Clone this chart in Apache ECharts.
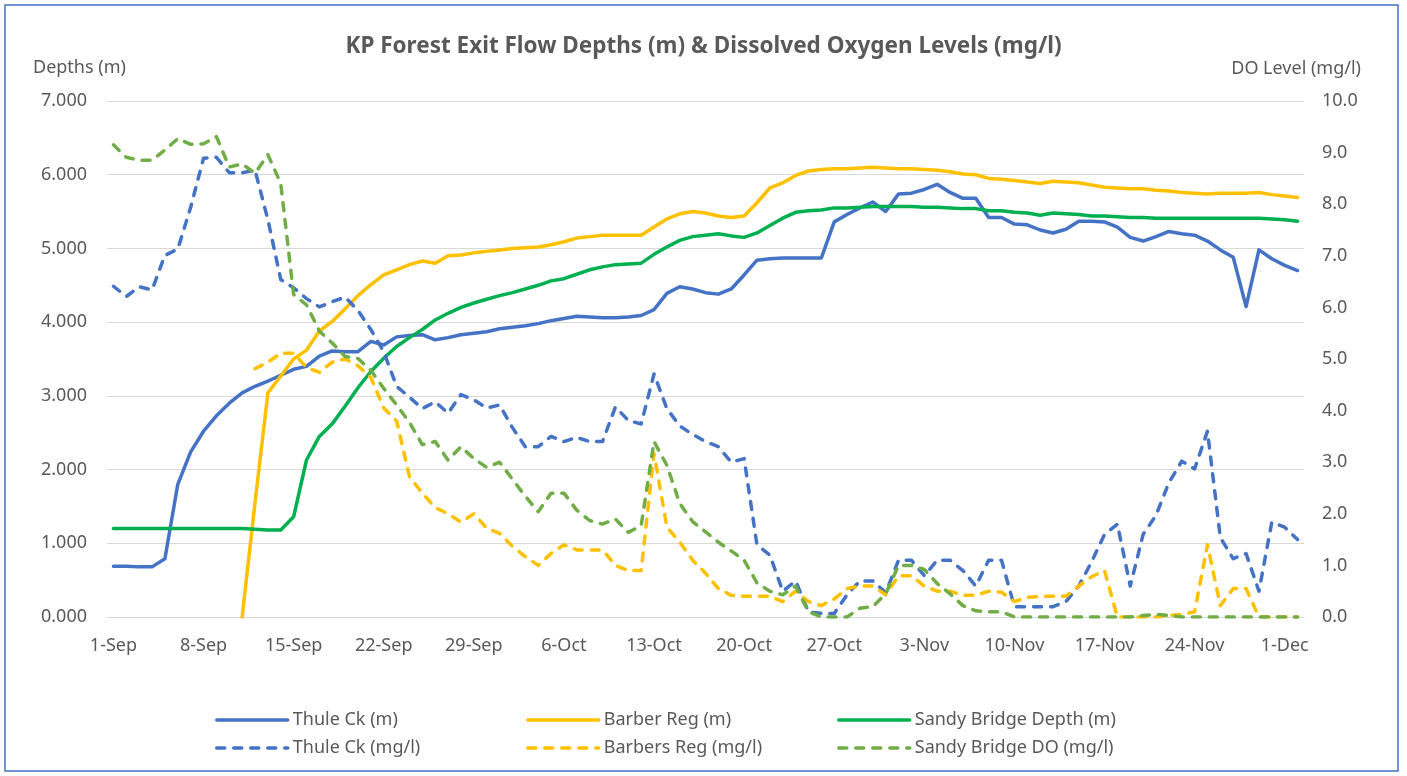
<!DOCTYPE html>
<html>
<head>
<meta charset="utf-8">
<title>KP Forest Exit Flow Depths & Dissolved Oxygen Levels</title>
<script src="https://cdn.jsdelivr.net/npm/echarts@6/dist/echarts.min.js"></script>
<style>
  html, body { margin: 0; padding: 0; background: #fff; }
  #chart { width: 1407px; height: 776px; }
</style>
</head>
<body>
<div id="chart"></div>
<script>
// daily categories 1-Sep .. 2-Dec
var monthNames = ['Sep', 'Oct', 'Nov', 'Dec'];
var monthDays = [30, 31, 30, 2];
var days = [];
for (var m = 0; m < monthNames.length; m++) {
    for (var d = 1; d <= monthDays[m]; d++) {
        days.push(d + '-' + monthNames[m]);
    }
}

// depths (m), left axis
var thuleDepth = [0.69, 0.69, 0.68, 0.68, 0.79, 1.80, 2.24, 2.52, 2.73, 2.90, 3.04, 3.13, 3.20, 3.28, 3.36,
    3.40, 3.54, 3.61, 3.60, 3.60, 3.74, 3.69, 3.80, 3.82, 3.83, 3.76, 3.79, 3.83, 3.85, 3.87, 3.91,
    3.93, 3.95, 3.98, 4.02, 4.05, 4.08, 4.07, 4.06, 4.06, 4.07, 4.09, 4.17, 4.39, 4.48, 4.45,
    4.40, 4.38, 4.45, 4.64, 4.84, 4.86, 4.87, 4.87, 4.87, 4.87, 5.36, 5.46, 5.55, 5.63, 5.50, 5.74,
    5.75, 5.80, 5.87, 5.76, 5.68, 5.68, 5.42, 5.42, 5.33, 5.32, 5.25, 5.21, 5.26, 5.37, 5.37, 5.36,
    5.29, 5.15, 5.10, 5.16, 5.23, 5.20, 5.18, 5.10, 4.98, 4.88, 4.21, 4.98, 4.86, 4.77, 4.70];
var barberDepth = [null, null, null, null, null, null, null, null, null, null, 0, 1.55, 3.04, 3.27, 3.50,
    3.62, 3.88, 4.01, 4.18, 4.36, 4.51, 4.64, 4.71, 4.78, 4.83, 4.80, 4.90, 4.91, 4.94, 4.96, 4.98,
    5.00, 5.01, 5.02, 5.05, 5.09, 5.14, 5.16, 5.18, 5.18, 5.18, 5.18, 5.29, 5.40, 5.47, 5.50,
    5.48, 5.44, 5.42, 5.44, 5.62, 5.82, 5.89, 5.99, 6.05, 6.07, 6.08, 6.08, 6.09, 6.10, 6.09, 6.08,
    6.08, 6.07, 6.06, 6.04, 6.01, 6.00, 5.95, 5.94, 5.92, 5.90, 5.88, 5.91, 5.90, 5.89, 5.86, 5.83,
    5.82, 5.81, 5.81, 5.79, 5.78, 5.76, 5.75, 5.74, 5.75, 5.75, 5.75, 5.76, 5.73, 5.71, 5.69];
var sandyDepth = [1.20, 1.20, 1.20, 1.20, 1.20, 1.20, 1.20, 1.20, 1.20, 1.20, 1.20, 1.19, 1.18, 1.18, 1.36,
    2.13, 2.45, 2.62, 2.86, 3.11, 3.33, 3.51, 3.67, 3.79, 3.90, 4.03, 4.12, 4.20, 4.26, 4.31, 4.36,
    4.40, 4.45, 4.50, 4.56, 4.59, 4.65, 4.71, 4.75, 4.78, 4.79, 4.80, 4.92, 5.02, 5.11, 5.16,
    5.18, 5.20, 5.17, 5.15, 5.21, 5.31, 5.41, 5.49, 5.51, 5.52, 5.55, 5.55, 5.56, 5.57, 5.57, 5.57,
    5.57, 5.56, 5.56, 5.55, 5.54, 5.54, 5.51, 5.51, 5.49, 5.48, 5.45, 5.48, 5.47, 5.46, 5.44, 5.44,
    5.43, 5.42, 5.42, 5.41, 5.41, 5.41, 5.41, 5.41, 5.41, 5.41, 5.41, 5.41, 5.40, 5.39, 5.37];

// dissolved oxygen (mg/l), right axis
var thuleDO = [6.41, 6.21, 6.40, 6.34, 7.01, 7.13, 7.94, 8.89, 8.91, 8.61, 8.61, 8.66, 7.70, 6.54, 6.38,
    6.17, 6.01, 6.11, 6.20, 5.94, 5.57, 5.14, 4.47, 4.26, 4.04, 4.17, 3.95, 4.31, 4.21, 4.05, 4.11,
    3.67, 3.30, 3.30, 3.50, 3.40, 3.48, 3.40, 3.40, 4.07, 3.81, 3.74, 4.71, 4.04, 3.70, 3.54,
    3.40, 3.30, 3.00, 3.07, 1.40, 1.20, 0.50, 0.70, 0.10, 0.07, 0.07, 0.43, 0.70, 0.70, 0.47, 1.10,
    1.10, 0.80, 1.10, 1.10, 0.90, 0.60, 1.10, 1.10, 0.20, 0.20, 0.20, 0.20, 0.30, 0.60, 1.07, 1.60,
    1.80, 0.60, 1.60, 1.97, 2.60, 3.02, 2.87, 3.60, 1.54, 1.13, 1.23, 0.50, 1.84, 1.74, 1.50];
var barberDO = [null, null, null, null, null, null, null, null, null, null, null, 4.81, 4.94, 5.11, 5.11,
    4.84, 4.74, 4.94, 5.00, 4.87, 4.64, 4.05, 3.80, 2.72, 2.40, 2.12, 2.00, 1.84, 2.00, 1.72, 1.62,
    1.37, 1.17, 1.00, 1.23, 1.40, 1.30, 1.30, 1.30, 1.00, 0.90, 0.90, 3.17, 1.74, 1.45, 1.10,
    0.85, 0.55, 0.42, 0.40, 0.40, 0.40, 0.30, 0.50, 0.30, 0.22, 0.35, 0.55, 0.60, 0.60, 0.43, 0.80,
    0.80, 0.60, 0.50, 0.50, 0.42, 0.42, 0.50, 0.48, 0.30, 0.38, 0.40, 0.40, 0.40, 0.60, 0.78, 0.90,
    0, 0, 0, 0, 0.03, 0.05, 0.10, 1.40, 0.22, 0.55, 0.55, 0, 0, 0, 0];
var sandyDO = [9.15, 8.91, 8.85, 8.85, 9.05, 9.27, 9.16, 9.17, 9.31, 8.72, 8.78, 8.60, 8.96, 8.40, 6.25,
    6.05, 5.54, 5.31, 5.05, 5.01, 4.78, 4.43, 4.11, 3.77, 3.34, 3.40, 3.04, 3.30, 3.07, 2.90, 3.00,
    2.67, 2.34, 2.04, 2.40, 2.40, 2.07, 1.87, 1.80, 1.90, 1.64, 1.77, 3.40, 2.94, 2.20, 1.85,
    1.65, 1.45, 1.28, 1.10, 0.66, 0.50, 0.43, 0.60, 0.10, 0, 0, 0, 0.17, 0.20, 0.45, 1.00,
    1.00, 0.92, 0.65, 0.45, 0.22, 0.12, 0.10, 0.10, 0, 0, 0, 0, 0, 0, 0, 0,
    0, 0, 0.03, 0.05, 0.03, 0, 0, 0, 0, 0, 0, 0, 0, 0, 0];

var seriesNames = ['Thule Ck (m)', 'Barber Reg (m)', 'Sandy Bridge Depth (m)',
    'Thule Ck (mg/l)', 'Barbers Reg (mg/l)', 'Sandy Bridge DO (mg/l)'];
var seriesData = [thuleDepth, barberDepth, sandyDepth, thuleDO, barberDO, sandyDO];
var seriesColors = ['#4472C4', '#FFC000', '#00B050', '#4472C4', '#FFC000', '#70AD47'];

var FONT = "'Noto Sans', sans-serif";
var TXT = '#595959';
var GRIDC = '#D9D9D9';

var series = [];
for (var i = 0; i < seriesNames.length; i++) {
    var dashed = i >= 3;
    series.push({
        name: seriesNames[i],
        type: 'line',
        yAxisIndex: dashed ? 1 : 0,
        data: seriesData[i],
        symbol: 'none',
        color: seriesColors[i],
        lineStyle: {
            width: 3.5,
            color: seriesColors[i],
            type: dashed ? [8, 9] : 'solid',
            cap: 'round',
            join: 'round'
        }
    });
}

// one legend per column, two rows each
function legendCol(left, names) {
    return {
        orient: 'vertical',
        left: left,
        top: 706,
        itemWidth: 71,
        itemHeight: 4,
        itemGap: 10,
        itemStyle: { color: 'rgba(0,0,0,0)', borderWidth: 0 },
        lineStyle: { width: 3.5, cap: 'round' },
        data: names,
        textStyle: { fontFamily: FONT, fontSize: 18, color: TXT, lineHeight: 18 }
    };
}

var chart = echarts.init(document.getElementById('chart'));
chart.setOption({
    animation: false,
    backgroundColor: '#fff',
    title: {
        text: 'KP Forest Exit Flow Depths (m) & Dissolved Oxygen Levels (mg/l)',
        left: 'center',
        top: 30,
        textStyle: { fontFamily: FONT, fontSize: 22.5, fontWeight: 'bold', color: TXT }
    },
    legend: [
        legendCol(210, [seriesNames[0], seriesNames[3]]),
        legendCol(521, [seriesNames[1], seriesNames[4]]),
        legendCol(832, [seriesNames[2], seriesNames[5]])
    ],
    grid: { left: 107, right: 103, top: 101, bottom: 159 },
    xAxis: {
        type: 'category',
        data: days,
        boundaryGap: true,
        axisLine: { lineStyle: { color: GRIDC, width: 1 } },
        axisTick: { interval: 6, length: 6, lineStyle: { color: GRIDC } },
        axisLabel: { interval: 6, margin: 20, fontFamily: FONT, fontSize: 18, color: TXT },
        splitLine: { show: false }
    },
    yAxis: [{
        type: 'value',
        min: 0, max: 7, interval: 1,
        axisLine: { show: false },
        axisTick: { show: false },
        axisLabel: {
            margin: 20, fontFamily: FONT, fontSize: 18, color: TXT,
            formatter: function (v) { return v.toFixed(3); }
        },
        splitLine: { lineStyle: { color: GRIDC, width: 1 } }
    }, {
        type: 'value',
        position: 'right',
        min: 0, max: 10, interval: 1,
        axisLine: { show: false },
        axisTick: { show: false },
        axisLabel: {
            margin: 18, fontFamily: FONT, fontSize: 18, color: TXT,
            formatter: function (v) { return v.toFixed(1); }
        },
        splitLine: { show: false }
    }],
    graphic: [{
        type: 'rect',
        shape: { x: 5, y: 5, width: 1393, height: 766 },
        style: { fill: 'none', stroke: '#4472C4', lineWidth: 1.5 },
        silent: true
    }, {
        type: 'text',
        style: { x: 33, y: 68, text: 'Depths (m)', font: '18px ' + FONT, fill: TXT, align: 'left', verticalAlign: 'middle' }
    }, {
        type: 'text',
        style: { x: 1361, y: 69, text: 'DO Level (mg/l)', font: '18px ' + FONT, fill: TXT, align: 'right', verticalAlign: 'middle' }
    }],
    series: series
});
</script>
</body>
</html>
